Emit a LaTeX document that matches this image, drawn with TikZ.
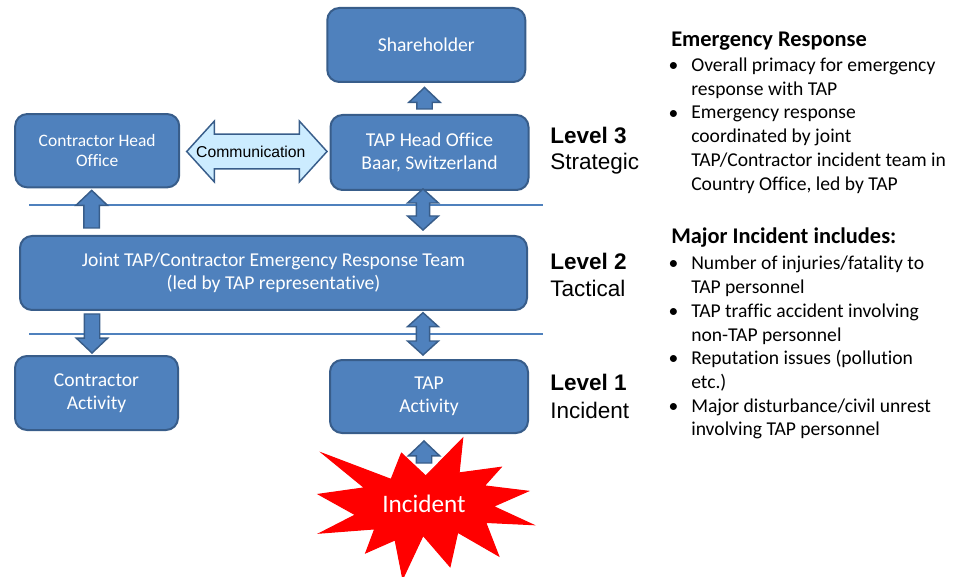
\documentclass[tikz,border=0pt]{standalone}
\usepackage{fontspec}
\setmainfont{Carlito}[Ligatures=NoCommon]
\newfontfamily\arialfont{Liberation Sans}
\usetikzlibrary{calc}

\definecolor{boxblue}{HTML}{4F81BD}
\definecolor{edgeblue}{HTML}{385D8A}
\definecolor{commblue}{HTML}{CCECFF}

\tikzset{
  org/.style={draw=edgeblue,fill=boxblue,line width=1.5pt,rounded corners=9pt,
    text=white,align=center,inner sep=0pt,font=\fontsize{14.7}{17.6}\selectfont},
  blockarrow/.style={draw=edgeblue,fill=boxblue,line width=1.1pt},
  commarrow/.style={draw=edgeblue,fill=commblue,line width=1.1pt},
  levelline/.style={draw=boxblue,line width=2.2pt},
  burst/.style={draw=red,fill=red,line width=0.8pt},
  level/.style={anchor=base west,inner sep=0pt,font=\arialfont\fontsize{16.9}{20}\selectfont},
  head/.style={anchor=base west,inner sep=0pt,font=\bfseries\fontsize{16.8}{20}\selectfont},
  item/.style={anchor=base west,inner sep=0pt,align=left,font=\fontsize{14.7}{17.8}\selectfont},
  dot/.style={anchor=base,inner sep=0pt,font=\fontsize{14.7}{17.8}\selectfont},
}

% single block arrow, tail #1, tip #2
\newcommand\fatarrow[2]{%
  \draw[blockarrow] let \p1=(#1), \p2=(#2), \n1={sign(\y2-\y1)} in
    ({\x1-5.8pt},\y1) -- ({\x1-5.8pt},{\y2-\n1*11.2pt}) -- ({\x1-11.8pt},{\y2-\n1*11.2pt})
    -- (\x1,\y2) -- ({\x1+11.8pt},{\y2-\n1*11.2pt}) -- ({\x1+5.8pt},{\y2-\n1*11.2pt})
    -- ({\x1+5.8pt},\y1) -- cycle;}
% double block arrow between #1 and #2
\newcommand\fatdarrow[2]{%
  \draw[blockarrow] let \p1=(#1), \p2=(#2), \n1={sign(\y2-\y1)} in
    (\x1,\y1) -- ({\x1+11.6pt},{\y1+\n1*10.5pt}) -- ({\x1+4.9pt},{\y1+\n1*10.5pt})
    -- ({\x1+4.9pt},{\y2-\n1*10.5pt}) -- ({\x1+11.6pt},{\y2-\n1*10.5pt}) -- (\x1,\y2)
    -- ({\x1-11.6pt},{\y2-\n1*10.5pt}) -- ({\x1-4.9pt},{\y2-\n1*10.5pt})
    -- ({\x1-4.9pt},{\y1+\n1*10.5pt}) -- ({\x1-11.6pt},{\y1+\n1*10.5pt}) -- cycle;}

\begin{document}
\begin{tikzpicture}[x=0.75pt,y=-0.75pt]
\useasboundingbox (0,0) rectangle (953,577);
\clip (0,0) rectangle (953,577);

\node[org,minimum width=148.5pt,minimum height=55.5pt] (share) at (426.3,45) {Shareholder};
\node[org,minimum width=148.5pt,minimum height=56.25pt] (tho) at (429.5,152.5) {TAP Head Office\\Baar, Switzerland};
\node[org,minimum width=123pt,minimum height=55pt,font=\fontsize{13.1}{15.4}\selectfont] (cho) at (97.2,150.7) {Contractor Head\\Office};
\node[org,minimum width=380.25pt,minimum height=55.5pt] (joint) at (273.5,273) {Joint TAP/Contractor Emergency Response Team\\(led by TAP representative)};
\node[org,minimum width=122.25pt,minimum height=55.5pt] (ca) at (96.5,393) {Contractor\\Activity};
\node[org,minimum width=148.5pt,minimum height=54.75pt] (ta) at (429,396.5) {TAP\\Activity};

\draw[levelline] (29,205) -- (543,205);
\draw[levelline] (29,334) -- (543,334);

% communication between the head offices
\draw[commarrow] let \p1=($(cho.east)+(6.5,0.8)$), \p2=($(tho.west)+(-2.5,0)$) in
  (\x1,\y1) -- ({\x1+20.8pt},{\y1+22.9pt}) -- ({\x1+20.8pt},{\y1+13.1pt}) -- ({\x2-20.8pt},{\y1+13.1pt})
  -- ({\x2-20.8pt},{\y1+22.9pt}) -- (\x2,\y1) -- ({\x2-20.8pt},{\y1-22.9pt}) -- ({\x2-20.8pt},{\y1-13.1pt})
  -- ({\x1+20.8pt},{\y1-13.1pt}) -- ({\x1+20.8pt},{\y1-22.9pt}) -- cycle;
\node[inner sep=0pt,font=\arialfont\fontsize{11.8}{14}\selectfont] (comm) at ($(cho.east)!0.5!(tho.west)+(-4,0)$) {Communication};

\fatarrow{$(tho.north)+(-5,-5)$}{$(share.south)+(-1,4.5)$}
\fatarrow{$(cho.south |- joint.north)+(-5.5,-7)$}{$(cho.south)+(-5.5,2)$}
\fatdarrow{$(tho.south)+(-6.5,-2)$}{$(tho.south |- joint.north)+(-6.5,-5)$}
\fatarrow{$(ca.north |- joint.south)+(-4.5,3)$}{$(ca.north)+(-4.5,-2)$}
\fatdarrow{$(ta.north |- joint.south)+(-6,1.7)$}{$(ta.north)+(-6,-4)$}

% incident burst
\begin{scope}[shift={(318.5,438.3)},xscale=0.0993,yscale=0.065]
\draw[burst] (1080,580) -- (1452.2,0) -- (1415.5,532.5) -- (1838,445.7) -- (1670.2,731.5)
  -- (2109.7,813.7) -- (1760.7,1047.5) -- (2160,1329) -- (1683.7,1294.2) -- (1814.5,1809.5)
  -- (1402,1445.7) -- (1324.7,1973.7) -- (1053.2,1493.5) -- (848.5,2160) -- (771.5,1562.7)
  -- (476.2,1761.7) -- (566.7,1393.7) -- (13.5,1458.7) -- (372.2,1177.5) -- (0,861.5)
  -- (462.7,761.7) -- (37,229.5) -- (731.2,632) -- (835.2,229.5) -- cycle;
\end{scope}
\node[anchor=base,inner sep=0pt,text=white,font=\fontsize{18.9}{22}\selectfont] (inc) at (424,512.7) {Incident};
\fatarrow{$(ta.south)+(-5,29)$}{$(ta.south)+(-5,7)$}

\node[level] (lev3) at (550,143.3) {\bfseries Level 3};
\node[level] (lev3b) at (550,170) {Strategic};
\node[level] (lev2) at (550,269.3) {\bfseries Level 2};
\node[level] (lev2b) at (550,296.7) {Tactical};
\node[level] (lev1) at (550,390) {\bfseries Level 1};
\node[level] (lev1b) at (550,418) {Incident};

% item nodes sit on the baseline of their last line
\node[head] (erhead) at (671,47) {Emergency Response};
\node[dot] at (673.5,71.7) {\textbullet};
\node[item] (er1) at (691,95.4) {Overall primacy for emergency\\response with TAP};
\node[dot] at (673.5,119.1) {\textbullet};
\node[item] (er2) at (691,190.2) {Emergency response\\coordinated by joint\\TAP/Contractor incident team in\\Country Office, led by TAP};

\node[head] (mihead) at (671,244) {Major Incident includes:};
\node[dot] at (673.5,270) {\textbullet};
\node[item] (mi1) at (691,293.7) {Number of injuries/fatality to\\TAP personnel};
\node[dot] at (673.5,317.4) {\textbullet};
\node[item] (mi2) at (691,341.1) {TAP traffic accident involving\\non-TAP personnel};
\node[dot] at (673.5,364.8) {\textbullet};
\node[item] (mi3) at (691,388.5) {Reputation issues (pollution\\etc.)};
\node[dot] at (673.5,412.2) {\textbullet};
\node[item] (mi4) at (691,435.9) {Major disturbance/civil unrest\\involving TAP personnel};
\end{tikzpicture}
\end{document}
